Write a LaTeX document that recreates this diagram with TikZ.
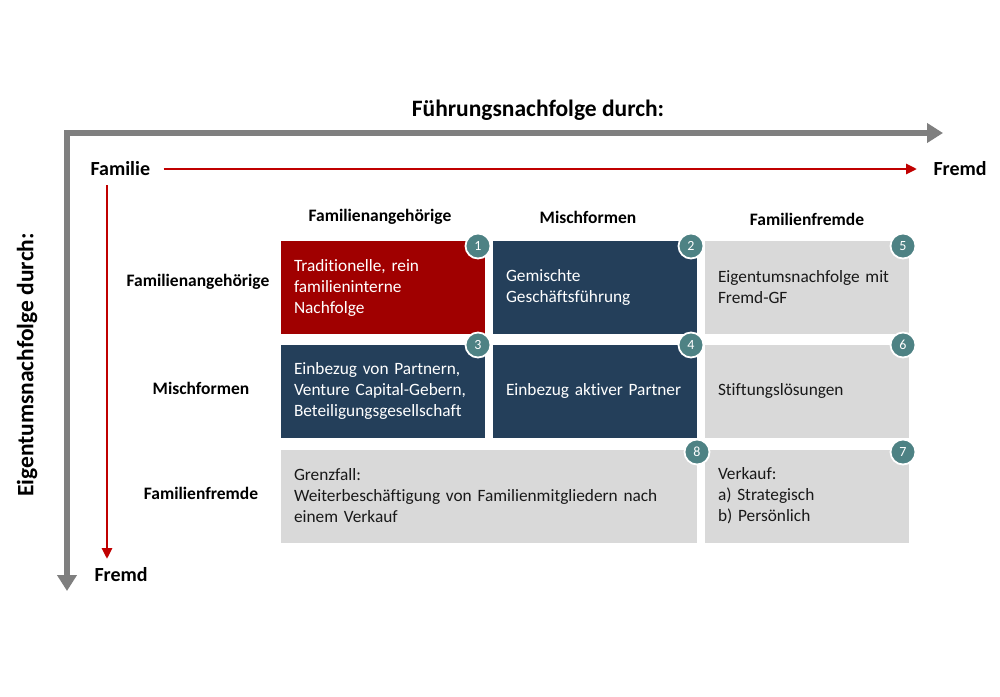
\documentclass[tikz,border=0pt]{standalone}
\usepackage{fontspec}
\setmainfont{Carlito}[Ligatures=CommonOff]
\usetikzlibrary{arrows.meta}
\definecolor{boxred}{HTML}{A00000}
\definecolor{boxblue}{HTML}{243F5A}
\definecolor{boxgray}{HTML}{D9D9D9}
\definecolor{teal}{HTML}{4E8284}
\definecolor{axisgray}{HTML}{7F7F7F}
\definecolor{arrred}{HTML}{C00000}
\begin{document}
\begin{tikzpicture}[x=1pt,y=-1pt,
  cell/.style={inner sep=0pt, minimum height=93pt, text width=#1-26pt, minimum width=#1, align=left, font=\fontsize{17.3}{21}\selectfont},
  redcell/.style={cell=#1, fill=boxred, text=white},
  bluecell/.style={cell=#1, fill=boxblue, text=white},
  graycell/.style={cell=#1, fill=boxgray, text=black!90},
  badge/.style={circle, fill=teal, draw=white, line width=1.8pt, minimum size=25pt, inner sep=0pt, text=white, font=\fontsize{14}{14}\selectfont},
  head/.style={font=\bfseries\fontsize{17.5}{20}\selectfont},
  axlab/.style={font=\bfseries\fontsize{20}{22}\selectfont},
  title/.style={font=\bfseries\fontsize{23.5}{26}\selectfont},
  grayaxis/.style={draw=axisgray, line width=6pt, line join=miter, {Triangle[width=19pt,length=16pt]}-{Triangle[width=19pt,length=16pt]}},
  redaxis/.style={draw=arrred, line width=2.8pt, -{Triangle[width=10pt,length=11pt]}}
]
\useasboundingbox (0,0) rectangle (1000,696);
% gray axes
\coordinate (gx) at (943,133);
\coordinate (o) at (67,133);
\coordinate (gy) at (67,591);
\draw[grayaxis] (gx) -- (o) -- (gy);
\node[title] (ttop) at (538,110) {Führungsnachfolge durch:};
\node[title, rotate=90] (tleft) at (27,365) {Eigentumsnachfolge durch:};
% red axes
\node[axlab, anchor=west] (famh) at (87,169) {Familie};
\node[axlab, anchor=west] (fremdh) at (930,169) {Fremd};
\draw[redaxis] (famh.east) ++(10,0) coordinate (rh0) -- (fremdh.west -| 917,0) coordinate (rh1);
\coordinate (rv0) at (107,185);
\coordinate (rv1) at (107,559);
\draw[redaxis] (rv0) -- (rv1);
\node[axlab, anchor=west] (fremdv) at (91,575) {Fremd};
% headers
\node[head] (c1) at (380,217) {Familienangehörige};
\node[head] (c2) at (588,217) {Mischformen};
\node[head] (c3) at (807,219) {Familienfremde};
\node[head] (r1) at (198,282) {Familienangehörige};
\node[head] (r2) at (201,388) {Mischformen};
\node[head] (r3) at (201,493) {Familienfremde};
% cells
\node[redcell=204pt] (b1) at (383,287.5) {Traditionelle, rein\\familieninterne\\Nachfolge};
\node[bluecell=204pt] (b2) at (595,287.5) {Gemischte\\Geschäftsführung};
\node[graycell=204pt] (b5) at (807,287.5) {Eigentumsnachfolge mit\\Fremd-GF};
\node[bluecell=204pt] (b3) at (383,391) {Einbezug von Partnern,\\Venture Capital-Gebern,\\Beteiligungsgesellschaft};
\node[bluecell=204pt] (b4) at (595,391) {Einbezug aktiver Partner};
\node[graycell=204pt] (b6) at (807,391) {Stiftungslösungen};
\node[graycell=416pt] (b8) at (489,496) {Grenzfall:\\Weiterbeschäftigung von Familienmitgliedern nach\\einem Verkauf};
\node[graycell=204pt] (b7) at (807,496) {Verkauf:\\a) Strategisch\\b) Persönlich};
% badges
\node[badge] (n1) at (478,246) {1};
\node[badge] (n2) at (691,246) {2};
\node[badge] (n5) at (903,246) {5};
\node[badge] (n3) at (478,345) {3};
\node[badge] (n4) at (691,345) {4};
\node[badge] (n6) at (903,345) {6};
\node[badge] (n8) at (697,452) {8};
\node[badge] (n7) at (903,452) {7};
\end{tikzpicture}
\end{document}
